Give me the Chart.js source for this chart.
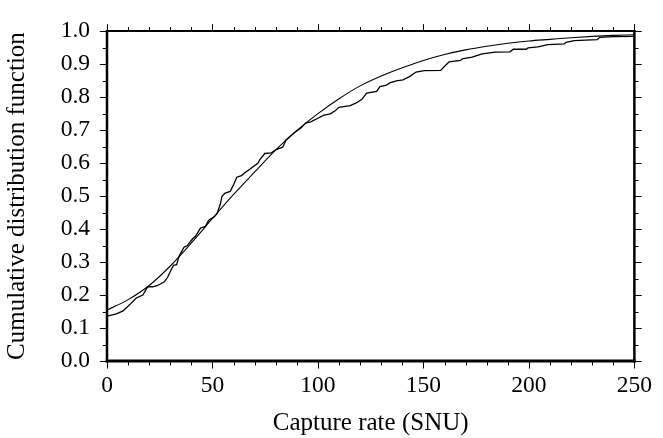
<!DOCTYPE html>
<html>
<head>
<meta charset="utf-8">
<script src="https://cdn.jsdelivr.net/npm/chart.js@4.4.1/dist/chart.umd.min.js"></script>
<style>
  html, body { margin: 0; padding: 0; background: #fff; }
  #wrap { width: 663px; height: 438px; position: relative; }
</style>
</head>
<body>
<div id="wrap"><canvas id="c" width="663" height="438"></canvas></div>
<script>
// ---- data ----
const smoothX = [0, 10, 20, 30, 40, 50, 60, 70, 80, 90, 100, 110, 120, 130, 140, 150, 160, 170, 180, 190, 200, 210, 220, 230, 240, 250];
const smoothY = [0.154, 0.186, 0.229, 0.288, 0.358, 0.432, 0.505, 0.573, 0.640, 0.699, 0.750, 0.795, 0.834, 0.864, 0.889, 0.911, 0.929, 0.943, 0.954, 0.963, 0.970, 0.975, 0.980, 0.984, 0.987, 0.989];

const stepX = [0, 4.5, 7.6, 10.8, 13.9, 17, 19.3, 21.7, 24, 27.2, 28.7, 30.3, 31.5, 33, 34.2, 36.5, 38.1, 40.4, 42, 44.3, 46.7, 48.2, 50.6, 52.1, 53.7, 54.5, 56, 58.4, 59.9, 61.5, 63.8, 65.4, 67.7, 71.6, 72.4, 74.8, 77.9, 80.2, 83.3, 84.9, 88.8, 91.9, 94.2, 96.6, 99.7, 102.9, 105.9, 108.3, 109.9, 115.3, 118.4, 120.8, 123.1, 127.8, 129.4, 132.5, 134, 137.2, 140.3, 143.4, 146.5, 150.4, 158.2, 159.8, 162.2, 167.6, 168.4, 173.1, 177.8, 184, 191, 192.6, 198.8, 199.6, 204.3, 209, 216.8, 217.6, 221.5, 232.4, 233.6, 240.2, 250];
const stepY = [0.136, 0.143, 0.152, 0.171, 0.191, 0.200, 0.225, 0.225, 0.229, 0.240, 0.253, 0.275, 0.290, 0.292, 0.318, 0.345, 0.350, 0.369, 0.379, 0.403, 0.408, 0.427, 0.436, 0.446, 0.475, 0.499, 0.509, 0.514, 0.533, 0.557, 0.562, 0.571, 0.581, 0.600, 0.610, 0.629, 0.631, 0.641, 0.648, 0.670, 0.692, 0.706, 0.721, 0.725, 0.735, 0.745, 0.749, 0.759, 0.769, 0.774, 0.783, 0.793, 0.812, 0.817, 0.832, 0.836, 0.843, 0.849, 0.852, 0.862, 0.876, 0.880, 0.881, 0.892, 0.907, 0.911, 0.916, 0.921, 0.931, 0.936, 0.937, 0.945, 0.945, 0.949, 0.952, 0.959, 0.961, 0.966, 0.971, 0.974, 0.981, 0.983, 0.984];

// ---- axes / tick labels ----
const xTitle = 'Capture rate (SNU)';
const yTitle = 'Cumulative distribution function';
const xMin = 0, xMax = 250, xMajorStep = 50;
const yMin = 0, yMax = 1, yMajorStep = 0.1;
const xMinorTicks = [0,10,20,30,40,50,60,70,80,90,100,110,120,130,140,150,160,170,180,190,200,210,220,230,240,250];
const yMinorTicks = [0,0.05,0.1,0.15,0.2,0.25,0.3,0.35,0.4,0.45,0.5,0.55,0.6,0.65,0.7,0.75,0.8,0.85,0.9,0.95,1.0];

const toPts = (xs, ys) => xs.map((v, i) => ({ x: v, y: ys[i] }));

const framePlugin = {
  id: 'frame',
  afterDraw(chart) {
    const { ctx, chartArea, scales } = chart;
    const { left, right, top, bottom } = chartArea;
    const x = scales.x, y = scales.y;
    ctx.save();
    ctx.strokeStyle = '#000';
    ctx.lineCap = 'butt';
    ctx.lineWidth = 1;
    ctx.beginPath();
    xMinorTicks.forEach(v => {
      const px = Math.round(x.getPixelForValue(v)) + 0.5;
      const major = Math.abs(v / xMajorStep - Math.round(v / xMajorStep)) < 1e-6;
      const len = major ? 6 : 3;
      ctx.moveTo(px, bottom); ctx.lineTo(px, bottom + 1.5 + len);
      ctx.moveTo(px, top); ctx.lineTo(px, top - 1 - len);
    });
    yMinorTicks.forEach(v => {
      const py = Math.round(y.getPixelForValue(v)) + 0.5;
      const major = Math.abs(v / yMajorStep - Math.round(v / yMajorStep)) < 1e-6;
      const len = major ? 6 : 3;
      ctx.moveTo(left, py); ctx.lineTo(left - 1.25 - len, py);
      ctx.moveTo(right, py); ctx.lineTo(right + 1.25 + len, py);
    });
    ctx.stroke();
    // frame
    ctx.lineWidth = 2;
    ctx.beginPath(); ctx.moveTo(left - 1.25, top); ctx.lineTo(right + 1.25, top); ctx.stroke();
    ctx.lineWidth = 2.5;
    ctx.beginPath(); ctx.moveTo(left, top - 1); ctx.lineTo(left, bottom + 1.5); ctx.stroke();
    ctx.beginPath(); ctx.moveTo(right, top - 1); ctx.lineTo(right, bottom + 1.5); ctx.stroke();
    ctx.lineWidth = 3;
    ctx.beginPath(); ctx.moveTo(left - 1.25, bottom); ctx.lineTo(right + 1.25, bottom); ctx.stroke();
    ctx.restore();
  }
};

Chart.defaults.font.family = "'Liberation Serif', 'Times New Roman', Times, serif";
Chart.defaults.font.size = 23;
Chart.defaults.color = '#000';

new Chart(document.getElementById('c'), {
  type: 'scatter',
  data: {
    datasets: [
      {
        label: 'model',
        data: toPts(smoothX, smoothY),
        showLine: true,
        borderColor: '#000',
        borderWidth: 1.1,
        pointRadius: 0,
        cubicInterpolationMode: 'monotone',
        fill: false
      },
      {
        label: 'sample',
        data: toPts(stepX, stepY),
        showLine: true,
        borderColor: '#000',
        borderWidth: 1.3,
        pointRadius: 0,
        tension: 0,
        fill: false
      }
    ]
  },
  options: {
    responsive: false,
    animation: false,
    events: [],
    layout: { padding: { left: 0, right: 22, top: 15, bottom: 0 } },
    plugins: { legend: { display: false }, tooltip: { enabled: false } },
    scales: {
      x: {
        type: 'linear', min: xMin, max: xMax,
        grid: { display: false, drawTicks: false },
        border: { display: false },
        ticks: { stepSize: xMajorStep, padding: 11, maxRotation: 0, autoSkip: false,
                 font: { size: 23.5 },
                 callback: v => String(v) },
        title: { display: true, text: xTitle, font: { size: 25 }, padding: { top: 0, bottom: 0 } },
        afterFit: s => { s.height = 77; }
      },
      y: {
        type: 'linear', min: yMin, max: yMax,
        grid: { display: false, drawTicks: false },
        border: { display: false },
        ticks: { stepSize: yMajorStep, padding: 17, autoSkip: false,
                 font: { size: 23.5 },
                 callback: v => Number(v).toFixed(1) },
        title: { display: true, text: yTitle, font: { size: 25 }, padding: { top: 2, bottom: 0 } },
        afterFit: s => { s.width = 107; }
      }
    }
  },
  plugins: [framePlugin]
});
</script>
</body>
</html>
